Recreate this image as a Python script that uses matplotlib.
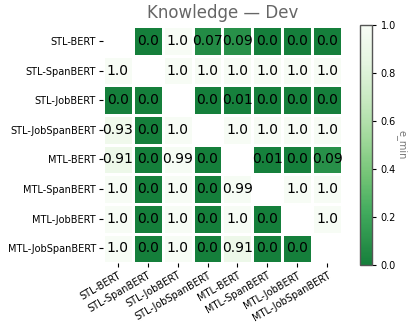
import matplotlib
matplotlib.use('Agg')
import matplotlib.pyplot as plt
import numpy as np
from matplotlib.colors import LinearSegmentedColormap

# Models compared (rows and columns)
models = ['STL-BERT', 'STL-SpanBERT', 'STL-JobBERT', 'STL-JobSpanBERT',
          'MTL-BERT', 'MTL-SpanBERT', 'MTL-JobBERT', 'MTL-JobSpanBERT']

nan = np.nan
e_min = [
    [nan, 0.0, 1.0, 0.07, 0.09, 0.0, 0.0, 0.0],
    [1.0, nan, 1.0, 1.0, 1.0, 1.0, 1.0, 1.0],
    [0.0, 0.0, nan, 0.0, 0.01, 0.0, 0.0, 0.0],
    [0.93, 0.0, 1.0, nan, 1.0, 1.0, 1.0, 1.0],
    [0.91, 0.0, 0.99, 0.0, nan, 0.01, 0.0, 0.09],
    [1.0, 0.0, 1.0, 0.0, 0.99, nan, 1.0, 1.0],
    [1.0, 0.0, 1.0, 0.0, 1.0, 0.0, nan, 1.0],
    [1.0, 0.0, 1.0, 0.0, 0.91, 0.0, 0.0, nan],
]

title = 'Knowledge \u2014 Dev'

data = np.ma.masked_invalid(np.array(e_min))
n = len(models)

# Greens, cut short of its darkest end, reversed
greens = plt.get_cmap('Greens')
cmap = LinearSegmentedColormap.from_list(
    'greens_cut', greens(np.linspace(0.8, 0.0, 256)))

fig = plt.figure(figsize=(4.15, 3.31), dpi=100)
ax = fig.add_axes([0.248, 0.205, 0.576, 0.716])
cax = fig.add_axes([0.867, 0.199, 0.029, 0.725])

mesh = ax.pcolormesh(data, cmap=cmap, vmin=0, vmax=1,
                     edgecolors='white', linewidth=1)
ax.set_xlim(0, n)
ax.set_ylim(n, 0)

for i in range(n):
    for j in range(n):
        v = e_min[i][j]
        if np.isnan(v):
            continue
        ax.text(j + 0.5, i + 0.5, str(round(v, 2)),
                ha='center', va='center', fontsize=10, color='black')

ax.set_xticks(np.arange(n) + 0.5)
ax.set_yticks(np.arange(n) + 0.5)
ax.set_xticklabels(models, rotation=30, ha='right', fontsize=7,
                   rotation_mode='anchor')
ax.set_yticklabels(models, fontsize=7)
ax.tick_params(length=3, width=0.8, pad=2)
for s in ax.spines.values():
    s.set_visible(False)

ax.set_title(title, fontsize=12, color='#666666', pad=6)

cb = fig.colorbar(mesh, cax=cax)
cb.set_ticks(np.arange(0, 1.01, 0.2))
cb.ax.tick_params(labelsize=7, length=3, width=0.8)
cb.outline.set_edgecolor('#555555')
cb.outline.set_linewidth(1)
cb.set_label('e_min', rotation=270, fontsize=7, color='#777777', labelpad=8)

fig.savefig('out.png', dpi=100)
